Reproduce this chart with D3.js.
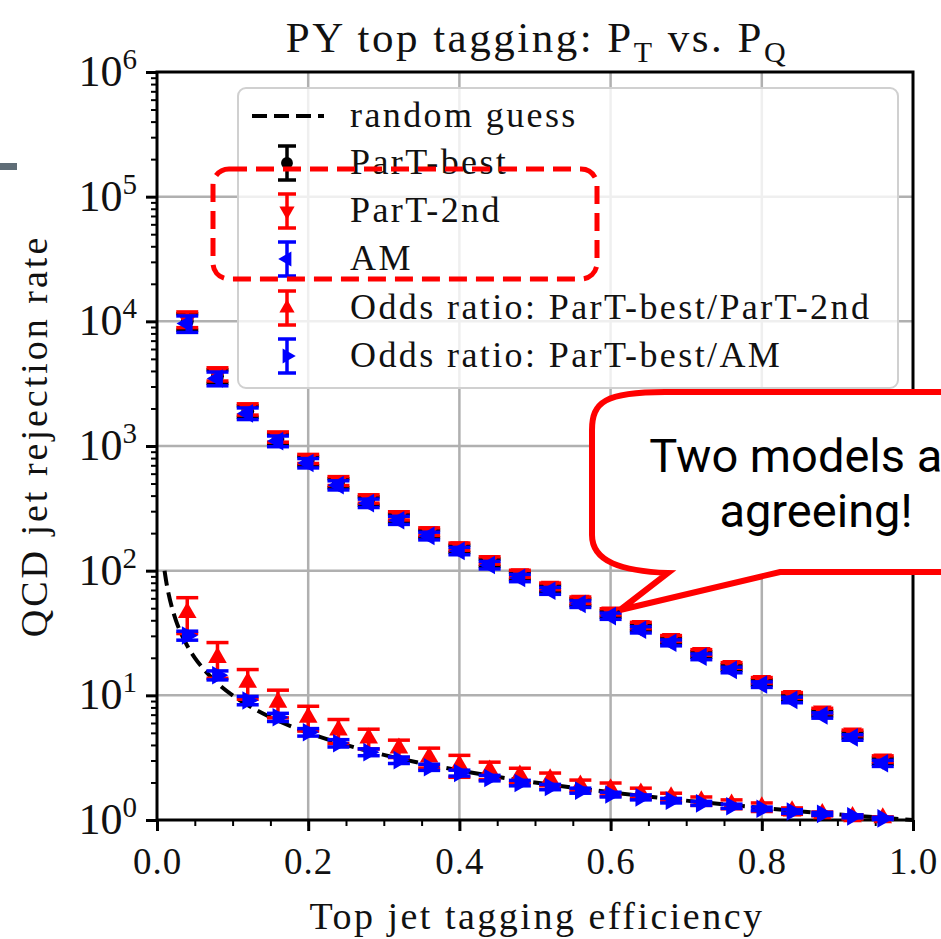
<!DOCTYPE html>
<html>
<head>
<meta charset="utf-8">
<script src="https://cdn.jsdelivr.net/npm/d3@7"></script>
<style>
  body { margin: 0; background: #fff; }
  svg text { font-family: "Liberation Serif", "Times New Roman", serif; fill: #111; }
</style>
</head>
<body>
<svg id="chart" width="941" height="939"></svg>
<script>
// ---- data ----
var effX = [0.04, 0.08, 0.12, 0.16, 0.20, 0.24, 0.28, 0.32, 0.36, 0.40, 0.44, 0.48,
            0.52, 0.56, 0.60, 0.64, 0.68, 0.72, 0.76, 0.80, 0.84, 0.88, 0.92, 0.96];

var partBest = [10000, 3630, 1900, 1140, 760, 505, 363, 265, 198, 150, 116, 91,
                72, 56, 45, 35, 27.5, 21.3, 16.7, 12.7, 9.6, 7.2, 4.8, 2.97];
var partBestErr = [1500, 450, 200, 110, 65, 42, 28, 20, 14, 10, 8, 6,
                   4.5, 3.4, 2.6, 2.0, 1.5, 1.1, 0.85, 0.65, 0.5, 0.35, 0.25, 0.17];

var part2nd = [10400, 3780, 1975, 1185, 790, 525, 377, 276, 206, 156, 121, 94.5,
               75, 58, 46.8, 36.4, 28.6, 22.1, 17.4, 13.2, 10.0, 7.5, 5.0, 3.09];
var part2ndErr = [1500, 460, 205, 112, 66, 43, 29, 21, 14.5, 10.5, 8.2, 6.2,
                  4.6, 3.5, 2.7, 2.1, 1.55, 1.15, 0.9, 0.68, 0.52, 0.37, 0.26, 0.18];

var amVals = [9600, 3480, 1825, 1095, 730, 485, 348, 254, 190, 144, 111, 87.5,
              69, 54, 43.2, 33.6, 26.4, 20.4, 16.0, 12.2, 9.2, 6.9, 4.6, 2.85];
var amErr = [1450, 440, 195, 108, 63, 41, 27, 19, 13.5, 9.8, 7.8, 5.9,
             4.4, 3.3, 2.5, 1.95, 1.45, 1.08, 0.83, 0.63, 0.48, 0.34, 0.24, 0.16];

var oddsPart2nd = [46, 20.1, 12.7, 8.8, 6.67, 5.25, 4.53, 3.77, 3.19, 2.75, 2.51, 2.29,
                   2.13, 1.9, 1.77, 1.64, 1.53, 1.42, 1.34, 1.27, 1.18, 1.12, 1.06, 1.04];
var oddsPart2ndErr = [14.7, 6.4, 3.4, 2.2, 1.5, 1.15, 0.82, 0.6, 0.58, 0.55, 0.4, 0.31,
                      0.25, 0.19, 0.21, 0.16, 0.11, 0.11, 0.11, 0.10, 0.07, 0.04, 0.04, 0.02];

var oddsAM = [30.2, 14.5, 9.1, 6.67, 5.06, 4.13, 3.5, 3.02, 2.65, 2.38, 2.17, 1.98,
              1.84, 1.72, 1.60, 1.52, 1.43, 1.36, 1.29, 1.23, 1.17, 1.12, 1.07, 1.03];
var oddsAMErr = [2.5, 1.2, 0.7, 0.5, 0.35, 0.28, 0.22, 0.18, 0.15, 0.13, 0.11, 0.1,
                 0.09, 0.08, 0.07, 0.07, 0.06, 0.05, 0.05, 0.04, 0.04, 0.03, 0.03, 0.02];

// random guess curve
var guessX = [0.01, 0.012, 0.015, 0.02, 0.025, 0.03, 0.04, 0.05, 0.06, 0.08, 0.1, 0.125,
              0.15, 0.2, 0.25, 0.3, 0.4, 0.5, 0.6, 0.7, 0.8, 0.9, 1.0];
var guessY = [100, 83.3, 66.7, 50, 40, 33.3, 25, 20, 16.7, 12.5, 10, 8,
              6.67, 5, 4, 3.33, 2.5, 2, 1.67, 1.43, 1.25, 1.11, 1];

var xTicks = [0, 0.2, 0.4, 0.6, 0.8, 1.0];
var xTickLabels = ["0.0", "0.2", "0.4", "0.6", "0.8", "1.0"];
var yExps = [0, 1, 2, 3, 4, 5, 6];

var legendLabels = ["random guess", "ParT-best", "ParT-2nd", "AM",
                    "Odds ratio: ParT-best/ParT-2nd", "Odds ratio: ParT-best/AM"];

// ---- setup ----
var svg = d3.select("#chart");
var W = 941, H = 939;
var m = { left: 157, right: 28, top: 72, bottom: 119 };

var x = d3.scaleLinear().domain([0, 1]).range([m.left, W - m.right]);
var y = d3.scaleLog().domain([1, 1e6]).range([H - m.bottom, m.top]);

svg.append("rect").attr("width", W).attr("height", H).attr("fill", "#fff");

// grey slide bar at the far left
svg.append("rect").attr("x", 0).attr("y", 163).attr("width", 17).attr("height", 7)
  .attr("fill", "#5f6d77");

// {{{ grid
var grid = svg.append("g").attr("stroke", "#b0b0b0").attr("stroke-width", 2.5);
[0.2, 0.4, 0.6, 0.8].forEach(function(t) {
  grid.append("line").attr("x1", x(t)).attr("x2", x(t))
    .attr("y1", y(1)).attr("y2", y(1e6));
});
[1, 2, 3, 4, 5].forEach(function(e) {
  grid.append("line").attr("x1", x(0)).attr("x2", x(1))
    .attr("y1", y(Math.pow(10, e))).attr("y2", y(Math.pow(10, e)));
});
// }}}

// {{{ axes
var xMinor = d3.range(0, 21).map(function(i) { return i * 0.05; });
svg.append("g")
  .attr("transform", "translate(0," + y(1) + ")")
  .call(d3.axisBottom(x).tickValues(xMinor).tickSize(6).tickFormat(""))
  .call(function(g) {
    g.select(".domain").remove();
    g.selectAll("line").attr("stroke", "#000").attr("stroke-width", 2);
  });
svg.append("g")
  .attr("transform", "translate(0," + y(1) + ")")
  .call(d3.axisBottom(x).tickValues(xTicks).tickSize(11).tickFormat(function(d, i) { return xTickLabels[i]; }))
  .call(function(g) {
    g.select(".domain").remove();
    g.selectAll("line").attr("stroke", "#000").attr("stroke-width", 3);
    g.selectAll("text").attr("font-size", 37).attr("dy", "0").attr("y", 54)
      .attr("letter-spacing", 1).attr("fill", "#111");
  });

var yMinor = [];
for (var e = 0; e < 6; e++) {
  for (var k = 2; k <= 9; k++) yMinor.push(k * Math.pow(10, e));
}
svg.append("g")
  .attr("transform", "translate(" + x(0) + ",0)")
  .call(d3.axisLeft(y).tickValues(yMinor).tickSize(6).tickFormat(""))
  .call(function(g) {
    g.select(".domain").remove();
    g.selectAll("line").attr("stroke", "#000").attr("stroke-width", 2);
  });
svg.append("g")
  .attr("transform", "translate(" + x(0) + ",0)")
  .call(d3.axisLeft(y).tickValues(yExps.map(function(e) { return Math.pow(10, e); }))
    .tickSize(11).tickFormat(""))
  .call(function(g) {
    g.select(".domain").remove();
    g.selectAll("line").attr("stroke", "#000").attr("stroke-width", 3);
  });
yExps.forEach(function(e) {
  var t = svg.append("text")
    .attr("x", 137).attr("y", y(Math.pow(10, e)) + 14)
    .attr("text-anchor", "end").attr("font-size", 44);
  t.append("tspan").text("10");
  t.append("tspan").attr("font-size", 29).attr("dy", -17).text(e);
});

// frame
svg.append("rect")
  .attr("x", x(0)).attr("y", y(1e6))
  .attr("width", x(1) - x(0)).attr("height", y(1) - y(1e6))
  .attr("fill", "none").attr("stroke", "#000").attr("stroke-width", 3);
// }}}

// {{{ titles
var title = svg.append("text").attr("x", 537).attr("y", 52)
  .attr("text-anchor", "middle").attr("font-size", 43).attr("letter-spacing", 2.5);
title.append("tspan").text("PY top tagging: P");
title.append("tspan").attr("font-size", 30).attr("dy", 10).text("T");
title.append("tspan").attr("dy", -10).text(" vs. P");
title.append("tspan").attr("font-size", 30).attr("dy", 10).text("Q");

svg.append("text").attr("x", 537).attr("y", 929)
  .attr("text-anchor", "middle").attr("font-size", 38).attr("letter-spacing", 2.5)
  .text("Top jet tagging efficiency");

svg.append("text")
  .attr("transform", "translate(47,436) rotate(-90)")
  .attr("text-anchor", "middle").attr("font-size", 38).attr("letter-spacing", 3)
  .text("QCD jet rejection rate");
// }}}

// {{{ marks
var guessLine = d3.line()
  .x(function(d) { return x(d[0]); })
  .y(function(d) { return y(d[1]); })
  .curve(d3.curveMonotoneX);

var guessPts = guessX.map(function(v, i) { return [v, guessY[i]]; });

var ROT = { circle: 0, down: 180, left: -90, up: 0, right: 90 };

function drawMarker(g, cx, cy, kind, color, size) {
  var sym = kind === "circle" ? d3.symbolCircle : d3.symbolTriangle;
  g.append("path")
    .attr("d", d3.symbol(sym, size)())
    .attr("transform", "translate(" + cx + "," + cy + ") rotate(" + ROT[kind] + ")")
    .attr("fill", color);
}

function drawErrorbar(g, cx, y0, y1, color, capW) {
  g.append("line").attr("x1", cx).attr("x2", cx).attr("y1", y0).attr("y2", y1)
    .attr("stroke", color).attr("stroke-width", 3.5);
  [y0, y1].forEach(function(yy) {
    g.append("line").attr("x1", cx - capW / 2).attr("x2", cx + capW / 2)
      .attr("y1", yy).attr("y2", yy).attr("stroke", color).attr("stroke-width", 3.5);
  });
}

function drawSeries(vals, errs, kind, color) {
  var g = svg.append("g");
  vals.forEach(function(v, i) {
    var cx = x(effX[i]);
    drawErrorbar(g, cx, y(v - errs[i]), y(v + errs[i]), color, 22);
    drawMarker(g, cx, y(v), kind, color, kind === "circle" ? 130 : 150);
  });
}

svg.append("path")
  .datum(guessPts)
  .attr("d", guessLine)
  .attr("fill", "none").attr("stroke", "#000").attr("stroke-width", 4)
  .attr("stroke-dasharray", "15,7");

drawSeries(partBest, partBestErr, "circle", "#000");
drawSeries(part2nd, part2ndErr, "down", "#ff0000");
drawSeries(amVals, amErr, "left", "#0000ff");
drawSeries(oddsPart2nd, oddsPart2ndErr, "up", "#ff0000");
drawSeries(oddsAM, oddsAMErr, "right", "#0000ff");
// }}}

// {{{ legend
var lg = svg.append("g");
lg.append("rect")
  .attr("x", 238).attr("y", 88).attr("width", 660).attr("height", 300)
  .attr("rx", 8).attr("fill", "#fff").attr("fill-opacity", 0.8)
  .attr("stroke", "#d0d0d0").attr("stroke-width", 2);

var rowY = [116, 163, 211, 259, 308, 356];
var legKinds = [null, "circle", "down", "left", "up", "right"];
var legColors = ["#000", "#000", "#ff0000", "#0000ff", "#ff0000", "#0000ff"];
legendLabels.forEach(function(lab, i) {
  var cy = rowY[i];
  if (i === 0) {
    lg.append("line").attr("x1", 252).attr("x2", 324).attr("y1", cy).attr("y2", cy)
      .attr("stroke", "#000").attr("stroke-width", 4).attr("stroke-dasharray", "15,7");
  } else {
    drawErrorbar(lg, 287, cy - 17, cy + 17, legColors[i], 18);
    drawMarker(lg, 287, cy, legKinds[i], legColors[i], legKinds[i] === "circle" ? 110 : 100);
  }
  lg.append("text").attr("x", 350).attr("y", cy + 11)
    .attr("font-size", 36).attr("letter-spacing", 2.4).text(lab);
});
// }}}

// red dashed highlight box
svg.append("rect")
  .attr("x", 213).attr("y", 169).attr("width", 384).attr("height", 110)
  .attr("rx", 16).attr("fill", "none")
  .attr("stroke", "#ff0000").attr("stroke-width", 5).attr("stroke-dasharray", "18,9");

// {{{ callout
svg.append("path")
  .attr("d", "M 1000,392 H 665 C 605,392 592,402 592,430 V 535 " +
    "C 592,562 622,571 668,573 L 620,610 L 780,572 H 1000")
  .attr("fill", "#fff").attr("stroke", "#ff0000").attr("stroke-width", 6)
  .attr("stroke-linejoin", "miter");

svg.append("text").attr("x", 816).attr("y", 472)
  .attr("text-anchor", "middle").attr("font-size", 47)
  .style("font-family", "Roboto, sans-serif").style("fill", "#000")
  .text("Two models are");
svg.append("text").attr("x", 816).attr("y", 527)
  .attr("text-anchor", "middle").attr("font-size", 47)
  .style("font-family", "Roboto, sans-serif").style("fill", "#000")
  .text("agreeing!");
// }}}
</script>
</body>
</html>
